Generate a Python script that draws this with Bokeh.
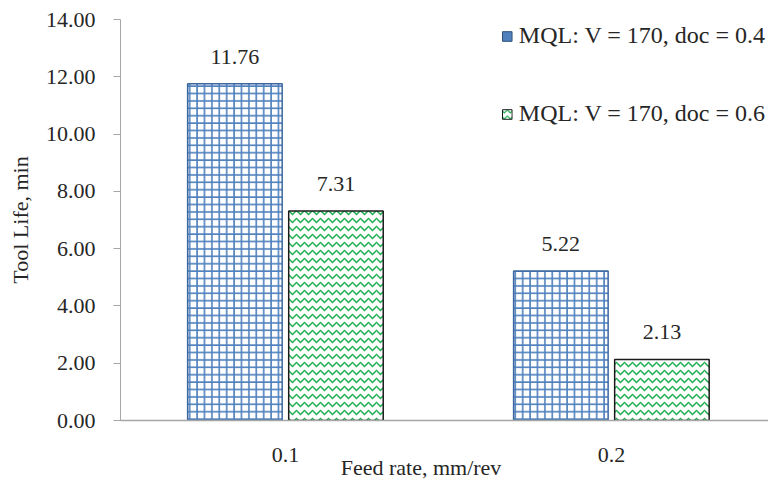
from bokeh.plotting import figure
from bokeh.models import Range1d, NumeralTickFormatter, Legend, LegendItem, ColumnDataSource, FixedTicker
from bokeh.core.properties import value
from bokeh.embed import file_html
from bokeh.resources import INLINE

categories = ["0.1", "0.2"]
series_names = ["MQL: V = 170, doc = 0.4", "MQL: V = 170, doc = 0.6"]
doc04 = [11.76, 5.22]
doc06 = [7.31, 2.13]
y_ticks = [0, 2, 4, 6, 8, 10, 12, 14]
x_title = "Feed rate, mm/rev"

FONT = "Liberation Serif"
FS = "22px"
TXT = "#262626"

pos = [i + 1 for i in range(len(categories))]
off = 0.155
bw = 0.29
title_pos = 1.416

p = figure(width=768, height=485, output_backend="svg", toolbar_location=None,
           x_range=Range1d(0.494, 2.482), y_range=Range1d(0, 14),
           min_border_left=120, min_border_right=0, min_border_top=19, min_border_bottom=65)
p.outline_line_color = None
p.xgrid.visible = False
p.ygrid.visible = False

s1 = ColumnDataSource(dict(x=[v - off for v in pos], top=doc04, lab=["%.2f" % v for v in doc04]))
s2 = ColumnDataSource(dict(x=[v + off for v in pos], top=doc06, lab=["%.2f" % v for v in doc06]))

p.vbar(x="x", top="top", width=bw, source=s1, fill_color="white",
       line_color="#3B67A0", line_width=1.5,
       hatch_pattern="cross", hatch_color="#4F81BD", hatch_scale=7.4, hatch_weight=1.6)
p.vbar(x="x", top="top", width=bw, source=s2, fill_color="white",
       line_color="#1a1a1a", line_width=1.5,
       hatch_pattern="horizontal_wave", hatch_color="#1DAF4F", hatch_scale=8, hatch_weight=1.5)

for s in (s1, s2):
    p.text(x="x", y="top", text="lab", source=s, text_align="center", text_baseline="bottom",
           y_offset=-20, text_font=value(FONT), text_font_size=FS, text_color=TXT)

# legend proxy renderers (placed outside the visible x range)
e1 = p.vbar(x=[-10], top=[1], width=bw, fill_color="#4F81BD", line_color="#2E4F7A", line_width=1)
e2 = p.vbar(x=[-10], top=[1], width=bw, fill_color="white", line_color="#1a1a1a", line_width=1,
            hatch_pattern="horizontal_wave", hatch_color="#1DAF4F", hatch_scale=6, hatch_weight=1.2)
legend = Legend(items=[LegendItem(label=series_names[0], renderers=[e1]),
                       LegendItem(label=series_names[1], renderers=[e2])],
                location="top_right", glyph_width=12, glyph_height=12, label_standoff=6,
                spacing=51, padding=1, margin=2, border_line_alpha=0, background_fill_alpha=0,
                label_text_font=FONT, label_text_font_size="24px", label_text_color=TXT,
                label_height=26)
p.add_layout(legend, "center")

# axes
p.yaxis.ticker = FixedTicker(ticks=y_ticks)
p.yaxis.formatter = NumeralTickFormatter(format="0.00")
p.yaxis.axis_line_color = "#A6A6A6"
p.yaxis.major_tick_line_color = "#A6A6A6"
p.yaxis.major_tick_out = 7
p.yaxis.major_tick_in = 0
p.yaxis.minor_tick_line_color = None
p.yaxis.major_label_standoff = 18
p.yaxis.major_label_text_font = FONT
p.yaxis.major_label_text_font_size = FS
p.yaxis.major_label_text_color = TXT
p.yaxis.axis_label = "Tool Life, min"
p.yaxis.axis_label_text_font = FONT
p.yaxis.axis_label_text_font_size = FS
p.yaxis.axis_label_text_font_style = "normal"
p.yaxis.axis_label_text_color = TXT
p.yaxis.axis_label_standoff = 10

# category labels plus the axis title as a second text line
overrides = {pos[i]: categories[i] for i in range(len(categories))}
overrides[title_pos] = "\n" + x_title
p.xaxis.ticker = FixedTicker(ticks=pos + [title_pos])
p.xaxis.major_label_overrides = overrides
p.xaxis.axis_line_color = "#A6A6A6"
p.xaxis.axis_line_width = 1.5
p.xaxis.major_tick_line_color = None
p.xaxis.minor_tick_line_color = None
p.xaxis.major_label_standoff = 15
p.xaxis.major_label_text_font = FONT
p.xaxis.major_label_text_font_size = FS
p.xaxis.major_label_text_color = TXT
p.xaxis.major_label_text_line_height = 0.52

open("out.html", "w").write(file_html(p, INLINE))
